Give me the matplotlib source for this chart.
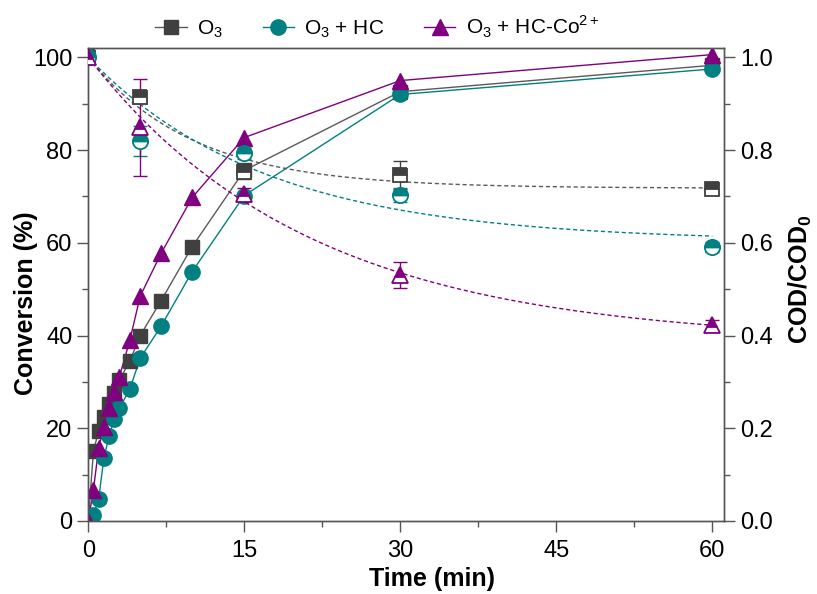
import numpy as np
import matplotlib
matplotlib.use("Agg")
import matplotlib.pyplot as plt
from matplotlib.lines import Line2D
from matplotlib.ticker import MultipleLocator

plt.rcParams['font.family'] = ['Liberation Sans', 'DejaVu Sans']
plt.rcParams['mathtext.fontset'] = 'custom'
plt.rcParams['mathtext.rm'] = 'Liberation Sans'
plt.rcParams['mathtext.bf'] = 'Liberation Sans:bold'

# conversion data (left axis)
t_conv = [0, 0.5, 1, 1.5, 2, 2.5, 3, 4, 5, 7, 10, 15, 30, 60]
conv_o3 = [0, 15.0, 19.5, 22.5, 25.3, 27.6, 30.4, 34.5, 40.0, 47.5, 59.2, 75.6, 92.6, 98.3]
conv_hc = [0, 1.3, 4.7, 13.5, 18.3, 21.9, 24.3, 28.5, 35.1, 42.0, 53.8, 70.2, 92.0, 97.5]
conv_co = [0, 6.7, 15.7, 20.3, 24.3, 27.8, 31.1, 39.0, 48.5, 57.7, 69.8, 82.7, 95.0, 100.6]

# COD/COD0 data (right axis)
t_cod = [0, 5, 15, 30, 60]
cod_o3 = [1.0, 0.914, 0.752, 0.747, 0.717]
cod_hc = [1.0, 0.820, 0.793, 0.704, 0.591]
cod_co = [1.0, 0.849, 0.706, 0.530, 0.422]
err_o3 = [0.0, 0.012, 0.015, 0.030, 0.010]
err_hc = [0.0, 0.032, 0.012, 0.015, 0.010]
err_co = [0.0, 0.104, 0.012, 0.028, 0.012]

labels = ['O$_3$', 'O$_3$ + HC', 'O$_3$ + HC-Co$^{2+}$']
colors = ['#404040', '#008080', '#800080']
line_colors = ['#5a5a5a', '#008080', '#800080']
markers = ['s', 'o', '^']
msizes = [10, 11, 12]


def fit_decay(t, y):
    # y = c + (1-c)*exp(-k t), starts at 1; grid over k, least squares for c
    t = np.asarray(t, float)
    y = np.asarray(y, float)
    best = None
    for k in np.linspace(0.005, 0.5, 1000):
        e = np.exp(-k * t)
        u = 1 - e
        c = np.dot(u, y - e) / np.dot(u, u)
        r = np.sum((c + (1 - c) * e - y) ** 2)
        if best is None or r < best[0]:
            best = (r, k, c)
    _, k, c = best
    return lambda x: c + (1 - c) * np.exp(-k * x)


fig = plt.figure(figsize=(8.17, 5.94), dpi=100)
ax = fig.add_axes([0.108, 0.123, 0.7785, 0.796])
ax2 = ax.twinx()

for yv, c, lc, m, ms in zip([conv_o3, conv_hc, conv_co], colors, line_colors, markers, msizes):
    ax.plot(t_conv, yv, color=lc, lw=1.0, zorder=2)
    ax.plot(t_conv, yv, ls='none', marker=m, ms=ms, color=c, mec=c, zorder=3)

tt = np.linspace(0, 60, 300)
for yv, e, c, lc, m, ms in zip([cod_o3, cod_hc, cod_co], [err_o3, err_hc, err_co],
                               colors, line_colors, markers, msizes):
    f = fit_decay(t_cod, yv)
    ax2.plot(tt, f(tt), color=lc, lw=1.0, ls=(0, (3, 2)), zorder=2)
    ax2.errorbar(t_cod, yv, yerr=e, ls='none', ecolor=c, elinewidth=1.0, capsize=5,
                 capthick=1.0, zorder=3)
    ax2.plot(t_cod, yv, ls='none', marker=m, ms=ms, color=c, mec=c, mew=1.3,
             fillstyle='top', markerfacecoloralt='white', zorder=4)

ax.set_xlim(0, 61.15)
ax.set_ylim(0, 102)
ax2.set_ylim(0, 1.02)
ax.set_xticks([0, 15, 30, 45, 60])
ax.xaxis.set_minor_locator(MultipleLocator(7.5))
ax.set_yticks([0, 20, 40, 60, 80, 100])
ax.yaxis.set_minor_locator(MultipleLocator(10))
ax2.set_yticks([0.0, 0.2, 0.4, 0.6, 0.8, 1.0])
ax2.set_yticklabels(['0.0', '0.2', '0.4', '0.6', '0.8', '1.0'])
ax2.yaxis.set_minor_locator(MultipleLocator(0.1))

for a in (ax, ax2):
    for s in a.spines.values():
        s.set_color('#555555')
        s.set_linewidth(1.0)
    a.tick_params(which='major', direction='out', length=8, width=1.0, color='#555555',
                  labelsize=17)
    a.tick_params(which='minor', direction='out', length=4, width=1.0, color='#555555')
ax.tick_params(axis='x', pad=6)

ax.set_xlabel('Time (min)', fontsize=18, fontweight='bold')
ax.set_ylabel('Conversion (%)', fontsize=18, fontweight='bold')
ax2.set_ylabel(r'COD/COD$_\mathbf{0}$', fontsize=18, fontweight='bold')
ax.xaxis.set_label_coords(0.54, -0.097)
ax.yaxis.set_label_coords(-0.098, 0.46)
ax2.yaxis.set_label_coords(1.119, 0.51)
ax.yaxis.label.set_va('center')
ax2.yaxis.label.set_va('center')

handles = [Line2D([0], [0], color=lc, lw=1.0, marker=m, ms=ms, mfc=c, mec=c)
           for c, lc, m, ms in zip(colors, line_colors, markers, msizes)]
fig.legend(handles, labels, loc='center', bbox_to_anchor=(0.462, 0.955), ncol=3,
           frameon=False, fontsize=15, handlelength=1.5, columnspacing=1.9,
           handletextpad=0.5)

fig.savefig('out.png', dpi=100)
